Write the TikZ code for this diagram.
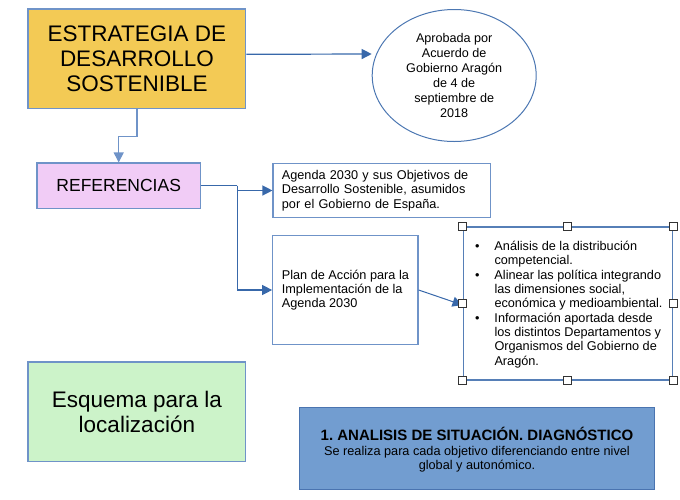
\documentclass[tikz,border=0pt]{standalone}
\usepackage{fontspec}
\setmainfont{Liberation Sans}
\usetikzlibrary{arrows.meta,shapes.geometric}
\frenchspacing
\definecolor{bord}{HTML}{6F93C8}
\definecolor{arrc}{HTML}{3868AA}
\definecolor{estrfill}{HTML}{F3CA55}
\definecolor{reffill}{HTML}{F1CCF6}
\definecolor{esqfill}{HTML}{CCF3C9}
\definecolor{diagfill}{HTML}{729DD0}
\definecolor{diagbord}{HTML}{4A74B0}
\tikzset{
  box/.style={draw=bord, line width=1.2pt, inner sep=0pt},
  arr/.style={draw=arrc, line width=1.2pt, -{Triangle[length=10pt,width=10pt]}},
  ln/.style={draw=arrc, line width=1.2pt},
  handle/.style={draw=black!80, fill=white, line width=0.9pt, minimum size=8pt, inner sep=0pt},
  fa/.style={font=\fontsize{22.5}{25}\selectfont},
  fb/.style={font=\fontsize{12.7}{14.3}\selectfont},
}
\begin{document}
\begin{tikzpicture}[x=1pt,y=-1pt]
\useasboundingbox (0,0) rectangle (680,499);
% boxes
\node[box, fill=estrfill, minimum width=217.7pt, minimum height=99.7pt, align=center, fa] (estr) at (136.9,58.9) {ESTRATEGIA DE\\DESARROLLO\\SOSTENIBLE};
\node[draw=arrc!90, line width=1pt, shape=ellipse, minimum width=164pt, minimum height=132pt, inner sep=0pt, align=center, font=\fontsize{12.6}{15}\selectfont] (ell) at (454.2,75.5) {Aprobada por\\Acuerdo de\\Gobierno Aragón\\de 4 de\\septiembre de\\2018};
\node[box, fill=reffill, minimum width=163.3pt, minimum height=45.3pt, font=\fontsize{17.5}{20}\selectfont] (refs) at (118.7,185.7) {REFERENCIAS};
\node[box, fill=white, minimum width=217.7pt, minimum height=54.4pt, text width=200pt, align=left, inner xsep=8.7pt, fb] (agenda) at (381.9,190.5) {Agenda 2030 y sus Objetivos de\\Desarrollo Sostenible, asumidos\\por el Gobierno de España.};
\node[box, fill=white, minimum width=145.3pt, minimum height=108.6pt, align=left, fb] (plan) at (345.4,290) {Plan de Acción para la\\Implementación de la\\Agenda 2030};
\node[draw=arrc!85, line width=1.5pt, fill=white, minimum width=209pt, minimum height=153pt, inner sep=0pt] (bul) at (567.8,303.5) {};
\node[anchor=base west, inner sep=0pt, align=left, fb] (bultext) at (475,365) {%
\makebox[19.3pt][l]{\textbullet}Análisis de la distribución\\
\hspace*{19.3pt}competencial.\\
\makebox[19.3pt][l]{\textbullet}Alinear las política integrando\\
\hspace*{19.3pt}las dimensiones social,\\
\hspace*{19.3pt}económica y medioambiental.\\
\makebox[19.3pt][l]{\textbullet}Información aportada desde\\
\hspace*{19.3pt}los distintos Departamentos y\\
\hspace*{19.3pt}Organismos del Gobierno de\\
\hspace*{19.3pt}Aragón.};
\node[box, fill=esqfill, minimum width=217.7pt, minimum height=99.5pt, align=center, fa] (esq) at (136.9,411.8) {Esquema para la\\localización};
\node[draw=diagbord, line width=1.2pt, fill=diagfill, minimum width=354.4pt, minimum height=81.6pt, inner sep=0pt, align=center, font=\fontsize{12.7}{14.2}\selectfont, text depth=0pt] (diag) at (477,448.5) {{\fontsize{15}{14.2}\selectfont\bfseries 1. ANALISIS DE SITUACIÓN. DIAGNÓSTICO}\\Se realiza para cada objetivo diferenciando entre nivel\\global y autonómico.};
% connectors
\draw[arr] ([yshift=4.6pt]estr.east) -- ([yshift=21.5pt]ell.west);
\draw[arr, draw=bord] (estr.south) -- ++(0,27.3) -| (refs.north);
\draw[ln] (refs.east) -- ++(36.4,0) coordinate (j);
\draw[arr] (j) |- (agenda.west);
\draw[arr] (j) |- (plan.west);
\draw[arr, line width=1pt] (plan.east) -- ([yshift=-1.5pt]bul.west);
% handles
\foreach \a in {north west,north,north east,east,south east,south,south west,west}
  \node[handle] at (bul.\a) {};
\end{tikzpicture}
\end{document}
